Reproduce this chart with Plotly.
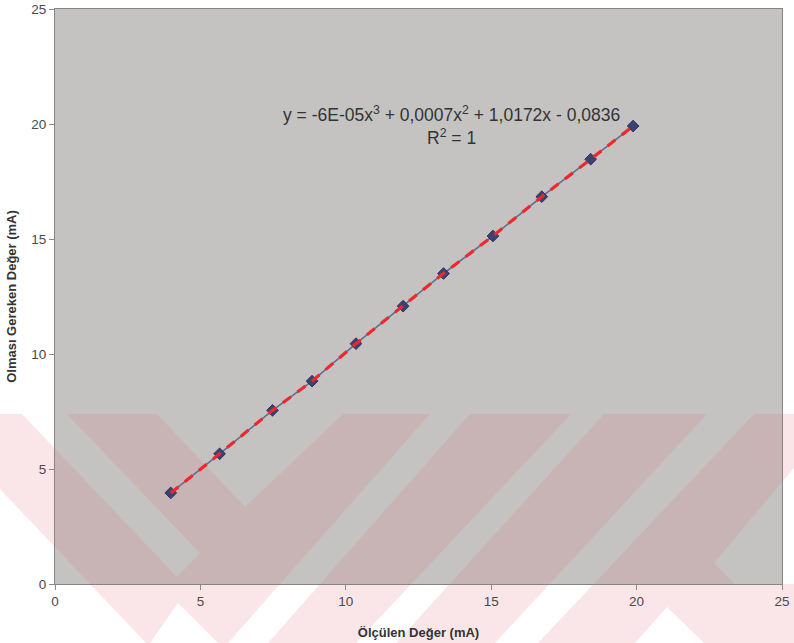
import plotly.graph_objects as go

# ---- data ----
measured = [3.98, 5.66, 7.48, 8.84, 10.35, 11.97, 13.36, 15.06, 16.74, 18.42, 19.88]
expected = [3.96, 5.66, 7.55, 8.82, 10.45, 12.08, 13.50, 15.13, 16.84, 18.47, 19.91]
tick_vals = [0, 5, 10, 15, 20, 25]
x_title = "Ölçülen Değer (mA)"
y_title = "Olması Gereken Değer (mA)"
eq_text = "y = -6E-05x<sup>3</sup> + 0,0007x<sup>2</sup> + 1,0172x - 0,0836<br>R<sup>2</sup> = 1"

W, H = 794, 643
L, R, T, B = 55, 12, 9, 59
PW, PH = W - L - R, H - T - B


def px(xp, yp):
    return (xp - L) / PW, (H - B - yp) / PH


def poly(pts):
    s = ""
    for i, (a, b) in enumerate(pts):
        xx, yy = px(a, b)
        s += ("M" if i == 0 else "L") + f"{xx:.4f},{yy:.4f} "
    return s + "Z "

# watermark (pink diagonal bands) built as a rectangle with holes
rect = [(0, 414), (794, 414), (794, 643), (0, 643)]
holes = [
    [(22, 414), (67, 414), (200, 553), (177, 577)],
    [(0, 489), (146, 643), (0, 643)],
    [(157, 414), (343, 414), (245, 507)],
    [(430, 414), (470, 414), (268, 643), (228, 643)],
    [(178, 603), (218, 643), (150, 643)],
    [(571, 414), (604, 414), (396, 643), (356, 643)],
    [(707, 414), (754, 414), (538, 643), (495, 643)],
    [(714, 563), (794, 468), (794, 584), (735, 584)],
    [(667, 607), (704, 643), (635, 643)],
]
path = poly(rect) + "".join(poly(h) for h in holes)

fig = go.Figure()
fig.add_trace(go.Scatter(
    x=measured, y=expected, mode="lines+markers",
    line=dict(color="#5f6f8f", width=1.6),
    marker=dict(symbol="diamond", size=9, color="#3a4272",
                line=dict(color="#2c3360", width=1)),
    showlegend=False, hoverinfo="x+y"))
fig.add_trace(go.Scatter(
    x=measured, y=expected, mode="lines",
    line=dict(color="#f0282c", width=3.2, dash="10px,8px"),
    showlegend=False, hoverinfo="skip"))

fig.add_shape(type="path", path=path, xref="paper", yref="paper",
              fillcolor="rgba(228,105,120,0.17)", fillrule="evenodd",
              line=dict(width=0), layer="below")

fig.add_annotation(x=13.65, y=19.95, xref="x", yref="y", text=eq_text,
                   showarrow=False, align="center",
                   font=dict(family="Liberation Sans, Arial", size=17.5, color="#333333"))

axis_common = dict(
    range=[0, 25], tickvals=tick_vals, ticks="outside", ticklen=5,
    tickcolor="#8c8c8c", showline=True, linecolor="#858585", linewidth=1,
    mirror=True, showgrid=False, zeroline=False,
    tickfont=dict(family="Liberation Sans, Arial", size=13.5, color="#4a4a4a"),
)
fig.update_xaxes(**axis_common,
                 title=dict(text=f"<b>{x_title}</b>", standoff=19,
                            font=dict(family="Liberation Sans, Arial", size=13, color="#333333")))
fig.update_yaxes(**axis_common,
                 title=dict(text=f"<b>{y_title}</b>", standoff=11,
                            font=dict(family="Liberation Sans, Arial", size=13, color="#333333")))

fig.update_layout(
    width=W, height=H,
    margin=dict(l=L, r=R, t=T, b=B, autoexpand=False),
    paper_bgcolor="white", plot_bgcolor="#c5c3c2",
)
fig.write_html("out.html", config={"displayModeBar": False},
               post_script="document.body.style.margin='0';document.body.style.overflow='hidden';")
